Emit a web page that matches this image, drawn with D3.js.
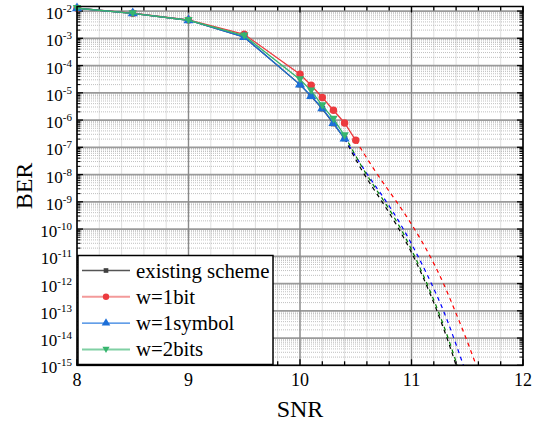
<!DOCTYPE html>
<html>
<head>
<meta charset="utf-8">
<script src="https://cdn.jsdelivr.net/npm/d3@7"></script>
<style>
  body { margin: 0; background: #fff; }
  svg { font-family: "Liberation Serif", "Times New Roman", serif; }
</style>
</head>
<body>
<svg id="chart"></svg>
<script>
const snrA = [8, 8.5, 9, 9.5, 10, 10.1, 10.2, 10.3, 10.4];
const snrRed = [8, 8.5, 9, 9.5, 10, 10.1, 10.2, 10.3, 10.4, 10.5];
const berExisting = [1.27e-2, 8.2e-3, 4.6e-3, 1.1e-3, 2.0e-5, 7.4e-6, 2.6e-6, 7.4e-7, 2.1e-7];
const berRed = [1.28e-2, 8.3e-3, 4.7e-3, 1.4e-3, 4.8e-5, 1.9e-5, 6.7e-6, 2.3e-6, 7.8e-7, 1.8e-7];
const berBlue = [1.27e-2, 8.2e-3, 4.6e-3, 1.1e-3, 2.0e-5, 7.6e-6, 2.7e-6, 7.8e-7, 2.1e-7];
const berGreen = [1.27e-2, 8.2e-3, 4.6e-3, 1.25e-3, 3.1e-5, 1.2e-5, 3.4e-6, 1.1e-6, 2.7e-7];

// dashed extrapolations (SNR at which each BER level is crossed)
const extBer = [1e-8, 1e-9, 1e-10, 1e-11, 1e-12, 1e-13, 1e-14, 1e-15];
const extExisting = [10.57, 10.74, 10.89, 11.02, 11.13, 11.23, 11.32, 11.40];
const extGreen = [10.59, 10.76, 10.91, 11.03, 11.14, 11.24, 11.33, 11.41];
const extBlue = [10.60, 10.78, 10.93, 11.06, 11.18, 11.29, 11.38, 11.465];
const extRed = [10.69, 10.87, 11.03, 11.17, 11.29, 11.39, 11.49, 11.58];

const xTicks = [8, 9, 10, 11, 12];
const yExps = [-2, -3, -4, -5, -6, -7, -8, -9, -10, -11, -12, -13, -14, -15];
const legendNames = ["existing scheme", "w=1bit", "w=1symbol", "w=2bits"];

const svgWidth = 540, svgHeight = 424;
const svg = d3.select("#chart").attr("width", svgWidth).attr("height", svgHeight);

const pLeft = 77, pRight = 523, pTop = 6.5, pBottom = 365.3;
const x = d3.scaleLinear().domain([8, 12]).range([pLeft, pRight]);
const y = d3.scaleLog().domain([1e-15, 1.47e-2]).range([pBottom, pTop]);

// minor grid
const minorY = [];
for (let e = -15; e <= -2; e++) {
  for (let m = 2; m <= 9; m++) {
    const v = m * Math.pow(10, e);
    if (v <= 1.47e-2) minorY.push(v);
  }
}
const minorX = d3.range(8, 12.001, 0.2).map(v => +v.toFixed(1));

const grid = svg.append("g");
grid.selectAll(".gy").data(minorY).enter().append("line")
  .attr("x1", pLeft).attr("x2", pRight)
  .attr("y1", d => y(d)).attr("y2", d => y(d))
  .attr("stroke", "#b0b0b0").attr("stroke-width", 0.8)
  .attr("stroke-dasharray", "1,1");
grid.selectAll(".gx").data(minorX).enter().append("line")
  .attr("y1", pTop).attr("y2", pBottom)
  .attr("x1", d => x(d)).attr("x2", d => x(d))
  .attr("stroke", "#b0b0b0").attr("stroke-width", 0.8)
  .attr("stroke-dasharray", "1,1");
// major grid
grid.selectAll(".My").data(yExps).enter().append("line")
  .attr("x1", pLeft).attr("x2", pRight)
  .attr("y1", d => y(Math.pow(10, d))).attr("y2", d => y(Math.pow(10, d)))
  .attr("stroke", "#9a9a9a").attr("stroke-width", 1.8);
grid.selectAll(".Mx").data(xTicks).enter().append("line")
  .attr("y1", pTop).attr("y2", pBottom)
  .attr("x1", d => x(d)).attr("x2", d => x(d))
  .attr("stroke", "#8a8a8a").attr("stroke-width", 1.4);

// ticks on all four sides, pointing in
const tk = svg.append("g").attr("stroke", "#000");
minorX.forEach(v => {
  const len = xTicks.includes(v) ? 6 : 4;
  tk.append("line").attr("x1", x(v)).attr("x2", x(v)).attr("y1", pBottom).attr("y2", pBottom - len).attr("stroke-width", 1.3);
  tk.append("line").attr("x1", x(v)).attr("x2", x(v)).attr("y1", pTop).attr("y2", pTop + len).attr("stroke-width", 1.3);
});
minorY.forEach(v => {
  tk.append("line").attr("x1", pLeft).attr("x2", pLeft + 3.5).attr("y1", y(v)).attr("y2", y(v)).attr("stroke-width", 1);
  tk.append("line").attr("x1", pRight).attr("x2", pRight - 3.5).attr("y1", y(v)).attr("y2", y(v)).attr("stroke-width", 1);
});
yExps.forEach(e => {
  const v = Math.pow(10, e);
  tk.append("line").attr("x1", pLeft).attr("x2", pLeft + 6).attr("y1", y(v)).attr("y2", y(v)).attr("stroke-width", 1.3);
  tk.append("line").attr("x1", pRight).attr("x2", pRight - 6).attr("y1", y(v)).attr("y2", y(v)).attr("stroke-width", 1.3);
});

// data lines
const line = d3.line().x(d => x(d[0])).y(d => y(d[1]));
const smooth = d3.line().x(d => x(d[0])).y(d => y(d[1])).curve(d3.curveBasis);

const series = [
  { sx: snrA, sy: berExisting, color: "#404040", dash: "#000000", ext: extExisting, marker: "square" },
  { sx: snrRed, sy: berRed, color: "#ec3b3f", dash: "#ff0000", ext: extRed, marker: "circle" },
  { sx: snrA, sy: berBlue, color: "#1d6fd8", dash: "#0000ff", ext: extBlue, marker: "triangle" },
  { sx: snrA, sy: berGreen, color: "#36b56e", dash: "#008000", ext: extGreen, marker: "down" }
];

const markerPath = (type) => {
  if (type === "square") return d3.symbol(d3.symbolSquare, 30)();
  if (type === "circle") return d3.symbol(d3.symbolCircle, 44)();
  if (type === "triangle") return d3.symbol(d3.symbolTriangle, 44)();
  return "M-4.2,-3.2L4.2,-3.2L0,4.2Z";
};

const plot = svg.append("g");
// dashed extrapolations first
series.forEach(s => {
  const n = s.sx.length - 1;
  const pts = [[s.sx[n], s.sy[n]]].concat(s.ext.map((v, i) => [v, extBer[i]]));
  plot.append("path").attr("d", smooth(pts))
    .attr("fill", "none").attr("stroke", s.dash).attr("stroke-width", 1.2)
    .attr("stroke-dasharray", "4,4");
});
series.forEach(s => {
  const pts = s.sx.map((v, i) => [v, s.sy[i]]);
  plot.append("path").attr("d", line(pts))
    .attr("fill", "none").attr("stroke", s.color).attr("stroke-width", 1.3);
  plot.selectAll(null).data(pts).enter().append("path")
    .attr("d", markerPath(s.marker))
    .attr("transform", d => `translate(${x(d[0])},${y(d[1])})`)
    .attr("fill", s.color);
});

// frame
svg.append("rect").attr("x", pLeft).attr("y", pTop)
  .attr("width", pRight - pLeft).attr("height", pBottom - pTop)
  .attr("fill", "none").attr("stroke", "#000").attr("stroke-width", 1.5);

// tick labels
svg.append("g").selectAll("text").data(xTicks).enter().append("text")
  .attr("x", d => x(d)).attr("y", 386)
  .attr("text-anchor", "middle").attr("font-size", 18).text(d => d);

const yl = svg.append("g").selectAll("text").data(yExps).enter().append("text")
  .attr("x", 72).attr("y", d => y(Math.pow(10, d)) + 8)
  .attr("text-anchor", "end").attr("font-size", 17);
yl.append("tspan").text("10");
yl.append("tspan").attr("dy", -7).attr("font-size", 11).text(d => "-" + Math.abs(d));

// axis titles
svg.append("text").attr("x", x(10)).attr("y", 417).attr("text-anchor", "middle")
  .attr("font-size", 24).text("SNR");
svg.append("text").attr("transform", "translate(32,186) rotate(-90)")
  .attr("text-anchor", "middle").attr("font-size", 24).text("BER");

// legend
const lg = svg.append("g");
lg.append("rect").attr("x", 78).attr("y", 255.5).attr("width", 195).attr("height", 109)
  .attr("fill", "#fff").attr("stroke", "#000").attr("stroke-width", 1.5);
const legendColors = ["#555555", "#f39a9a", "#2f7ee0", "#80d0a4"];
legendNames.forEach((name, i) => {
  const yy = 270.5 + i * 26.3;
  lg.append("line").attr("x1", 82).attr("x2", 130).attr("y1", yy).attr("y2", yy)
    .attr("stroke", legendColors[i]).attr("stroke-width", i % 2 ? 2 : 1.3);
  lg.append("path").attr("d", markerPath(series[i].marker))
    .attr("transform", `translate(106,${yy}) scale(0.85)`)
    .attr("fill", series[i].color);
  lg.append("text").attr("x", 136).attr("y", yy + 7).attr("font-size", 20.8).text(name);
});
</script>
</body>
</html>
